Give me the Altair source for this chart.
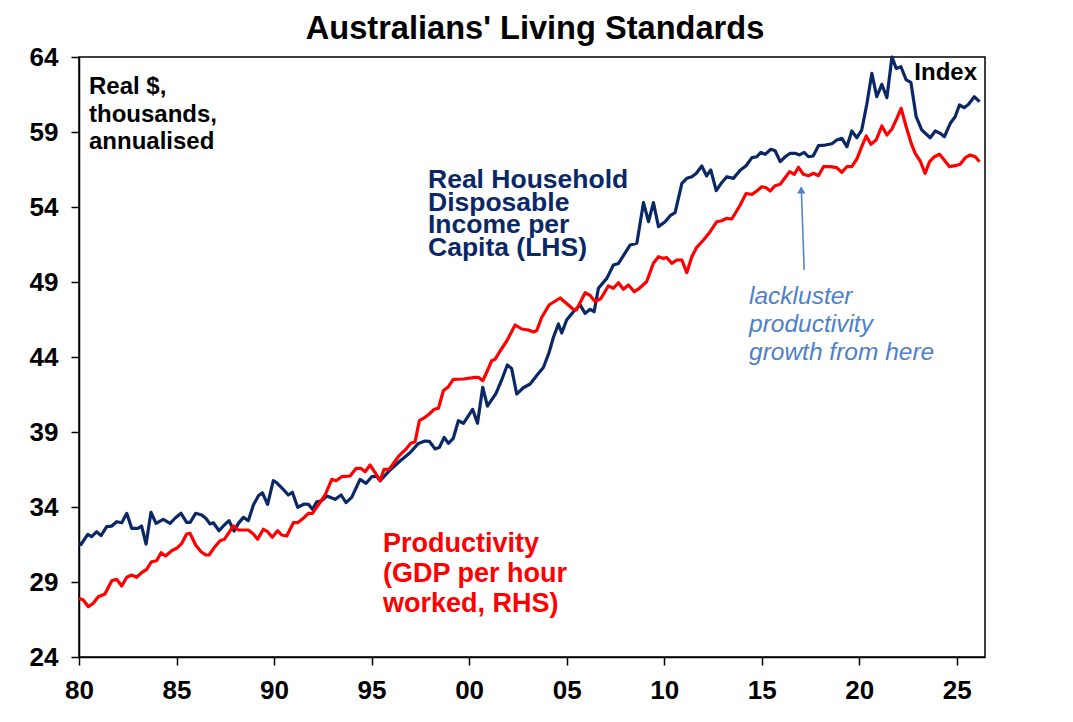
import altair as alt
import pandas as pd

# Real household disposable income per capita, real $ thousands (left axis)
income_years = [
    1980.0, 1980.1, 1980.45, 1980.65, 1980.9, 1981.13, 1981.42, 1981.68, 1981.93, 1982.19,
    1982.45, 1982.7, 1983.04, 1983.21, 1983.44, 1983.69, 1983.95, 1984.32, 1984.67, 1984.92,
    1985.23, 1985.52, 1985.7, 1985.98, 1986.29, 1986.5, 1986.72, 1986.89, 1987.18, 1987.45,
    1987.69, 1987.95, 1988.17, 1988.43, 1988.68, 1988.94, 1989.2, 1989.4, 1989.67, 1989.96,
    1990.13, 1990.47, 1990.73, 1990.94, 1991.21, 1991.55, 1991.76, 1991.97, 1992.19, 1992.44,
    1992.7, 1993.13, 1993.44, 1993.69, 1993.98, 1994.41, 1994.72, 1995.01, 1995.27, 1995.44,
    1995.95, 1996.46, 1996.97, 1997.4, 1997.74, 1997.96, 1998.26, 1998.48, 1998.72, 1998.94,
    1999.19, 1999.45, 1999.71, 2000.18, 2000.43, 2000.7, 2000.94, 2001.38, 2001.67, 2001.96,
    2002.18, 2002.44, 2002.78, 2003.13, 2003.55, 2003.81, 2004.1, 2004.32, 2004.58, 2004.75,
    2005.0, 2005.35, 2005.69, 2005.95, 2006.21, 2006.41, 2006.63, 2007.06, 2007.4, 2007.66,
    2008.26, 2008.6, 2008.94, 2009.2, 2009.45, 2009.71, 2010.05, 2010.31, 2010.56, 2010.91,
    2011.16, 2011.42, 2011.64, 2011.93, 2012.18, 2012.39, 2012.67, 2012.95, 2013.21, 2013.55,
    2013.9, 2014.2, 2014.5, 2014.75, 2014.96, 2015.18, 2015.47, 2015.69, 2015.95, 2016.21,
    2016.46, 2016.72, 2016.94, 2017.18, 2017.4, 2017.64, 2017.91, 2018.26, 2018.6, 2018.85,
    2019.11, 2019.37, 2019.62, 2019.88, 2020.13, 2020.39, 2020.65, 2020.9, 2021.16, 2021.42,
    2021.68, 2021.9, 2022.14, 2022.41, 2022.65, 2022.92, 2023.21, 2023.64, 2023.9, 2024.15,
    2024.37, 2024.67, 2024.92, 2025.14, 2025.38, 2025.61, 2025.9, 2026.17,
]
income_values = [
    31.55, 31.5, 32.18, 32.02, 32.35, 32.09, 32.69, 32.73, 33.02, 32.95,
    33.58, 32.58, 32.58, 32.73, 31.53, 33.65, 32.91, 33.18, 32.91, 33.25,
    33.58, 32.98, 32.98, 33.58, 33.47, 33.25, 32.87, 32.95, 32.42, 32.8,
    33.09, 32.4, 32.91, 33.31, 33.09, 34.13, 34.75, 34.95, 34.18, 35.75,
    35.62, 35.18, 34.8, 34.98, 33.98, 34.2, 34.18, 33.85, 34.35, 34.42,
    34.73, 34.51, 34.8, 34.29, 34.64, 35.84, 35.58, 36.02, 36.05, 35.75,
    36.47, 37.07, 37.62, 38.24, 38.4, 38.38, 37.87, 37.98, 38.64, 38.24,
    38.58, 39.75, 39.58, 40.51, 39.58, 41.98, 40.73, 41.58, 42.47, 43.47,
    43.24, 41.53, 41.95, 42.2, 42.9, 43.3, 44.3, 45.3, 46.2, 45.6,
    46.47, 47.02, 47.47, 46.91, 47.18, 47.02, 48.58, 49.24, 50.13, 50.24,
    51.47, 51.58, 54.29, 53.02, 54.29, 52.69, 53.02, 53.42, 53.62, 55.58,
    55.91, 56.02, 56.24, 56.73, 56.07, 56.47, 55.09, 55.62, 56.02, 55.91,
    56.45, 56.75, 57.29, 57.35, 57.64, 57.51, 57.85, 57.75, 57.02, 57.35,
    57.58, 57.58, 57.47, 57.64, 57.35, 57.4, 58.09, 58.13, 58.22, 58.47,
    58.58, 58.02, 59.07, 58.62, 59.13, 60.85, 62.91, 61.35, 62.18, 61.29,
    64.0, 63.24, 63.35, 62.47, 62.31, 60.02, 59.13, 58.62, 59.07, 58.91,
    58.69, 59.58, 60.02, 60.8, 60.62, 60.85, 61.35, 61.02,
]

# Productivity, GDP per hour worked, index (right axis)
prod_years = [
    1980.0, 1980.22, 1980.48, 1980.73, 1980.99, 1981.33, 1981.68, 1981.93, 1982.19, 1982.45,
    1982.7, 1982.95, 1983.21, 1983.47, 1983.72, 1983.98, 1984.21, 1984.44, 1984.75, 1985.01,
    1985.27, 1985.52, 1985.69, 1985.98, 1986.26, 1986.5, 1986.67, 1986.97, 1987.23, 1987.45,
    1987.66, 1987.91, 1988.17, 1988.68, 1988.94, 1989.16, 1989.45, 1989.67, 1989.91, 1990.18,
    1990.39, 1990.65, 1990.99, 1991.21, 1991.5, 1991.76, 1991.97, 1992.3, 1992.62, 1992.96,
    1993.18, 1993.47, 1993.9, 1994.21, 1994.44, 1994.67, 1994.92, 1995.18, 1995.44, 1995.64,
    1995.91, 1996.37, 1996.8, 1997.01, 1997.23, 1997.45, 1997.74, 1997.96, 1998.21, 1998.43,
    1998.68, 1998.94, 1999.19, 1999.71, 2000.31, 2000.48, 2000.7, 2000.94, 2001.16, 2001.33,
    2001.59, 2001.93, 2002.36, 2002.7, 2003.04, 2003.3, 2003.47, 2003.72, 2004.1, 2004.67,
    2005.0, 2005.35, 2005.5, 2005.95, 2006.21, 2006.46, 2006.76, 2007.14, 2007.4, 2007.66,
    2007.91, 2008.17, 2008.47, 2008.73, 2009.1, 2009.45, 2009.71, 2009.93, 2010.14, 2010.39,
    2010.65, 2010.91, 2011.16, 2011.42, 2011.67, 2012.02, 2012.36, 2012.7, 2012.95, 2013.21,
    2013.47, 2013.9, 2014.2, 2014.5, 2014.75, 2015.01, 2015.23, 2015.44, 2015.69, 2015.95,
    2016.15, 2016.43, 2016.67, 2016.89, 2017.14, 2017.4, 2017.66, 2017.91, 2018.17, 2018.51,
    2018.85, 2019.11, 2019.37, 2019.62, 2019.88, 2020.13, 2020.36, 2020.6, 2020.87, 2021.16,
    2021.42, 2021.68, 2021.93, 2022.15, 2022.41, 2022.65, 2022.87, 2023.13, 2023.38, 2023.61,
    2023.86, 2024.12, 2024.36, 2024.63, 2024.92, 2025.18, 2025.44, 2025.69, 2025.95, 2026.17,
]
prod_values = [
    55.87, 55.7, 55.03, 55.37, 56.03, 56.3, 57.63, 57.77, 57.1, 57.97,
    58.2, 57.97, 58.43, 58.77, 59.53, 59.63, 60.43, 60.1, 60.63, 60.87,
    61.37, 62.3, 62.37, 61.2, 60.53, 60.2, 60.2, 61.03, 61.63, 61.77,
    62.37, 63.1, 62.7, 62.7, 62.3, 61.77, 62.77, 62.53, 61.97, 62.63,
    62.2, 62.1, 63.43, 63.43, 63.87, 64.37, 64.37, 65.3, 66.2, 67.77,
    67.63, 68.03, 68.1, 68.87, 68.87, 68.53, 69.2, 68.43, 67.63, 68.77,
    68.77, 70.03, 70.87, 71.37, 71.53, 73.63, 73.97, 74.3, 74.77, 74.87,
    76.63, 77.03, 77.77, 77.8, 77.97, 77.97, 77.63, 78.63, 79.63, 79.77,
    80.6, 81.6, 83.2, 82.8, 82.7, 82.5, 82.65, 83.95, 85.2, 85.9,
    85.35, 84.75, 84.7, 86.43, 86.15, 85.53, 85.85, 87.1, 86.87, 87.43,
    86.77, 87.2, 86.53, 86.87, 87.53, 89.37, 90.03, 89.87, 89.93, 89.37,
    89.7, 89.7, 88.43, 90.03, 90.97, 91.7, 92.53, 93.53, 93.63, 93.87,
    93.8, 95.2, 96.35, 96.27, 96.6, 97.03, 96.93, 96.6, 97.13, 97.27,
    97.8, 98.53, 98.27, 98.97, 98.27, 98.13, 98.37, 98.13, 99.03, 99.03,
    98.93, 98.47, 99.03, 99.03, 99.8, 101.03, 102.1, 101.27, 101.7, 103.1,
    102.2, 102.8, 103.87, 104.87, 103.03, 101.47, 100.37, 99.6, 98.37, 99.53,
    100.03, 100.27, 99.7, 99.03, 99.13, 99.27, 99.93, 100.2, 100.03, 99.53,
]

x_ticks = [1980, 1985, 1990, 1995, 2000, 2005, 2010, 2015, 2020, 2025]
lhs_ticks = [24, 29, 34, 39, 44, 49, 54, 59, 64]
rhs_ticks = [50, 60, 70, 80, 90, 100, 110]

# annotation arrow (year, index): tail then head
arrow_years = [2017.18, 2017.03]
arrow_index = [88.7, 97.0]

FONT = "Liberation Sans"
NAVY = "#0a2866"
RED = "#ff0000"
NOTE_BLUE = "#4f7fc6"
W, H = 906, 600

income = pd.DataFrame({"year": income_years, "value": income_values})
prod = pd.DataFrame({"year": prod_years, "value": prod_values})
arrow = pd.DataFrame({"year": [arrow_years[0]], "idx": [arrow_index[0]],
                      "year2": [arrow_years[1]], "idx2": [arrow_index[1]]})
arrow_tip = pd.DataFrame({"year": [arrow_years[1]], "idx": [arrow_index[1]]})

x_scale = alt.Scale(domain=[1980, 2026.45], nice=False, zero=False)
lhs_scale = alt.Scale(domain=[24, 64], nice=False, zero=False)
rhs_scale = alt.Scale(domain=[50, 110], nice=False, zero=False)

x_enc = alt.X(
    "year:Q", scale=x_scale, title=None,
    axis=alt.Axis(values=x_ticks, format="d",
                  labelExpr="substring(datum.label, 2, 4)",
                  labelBaseline="alphabetic", labelPadding=33,
                  labelFontSize=26, labelFont=FONT, labelFontWeight="bold",
                  labelColor="black", tickColor="black", tickSize=8, tickWidth=1.5,
                  domainColor="black", domainWidth=1.5, grid=False, labelFlush=False),
)

blue_line = alt.Chart(income).mark_line(color=NAVY, strokeWidth=3.2, strokeJoin="round").encode(
    x=x_enc,
    y=alt.Y("value:Q", scale=lhs_scale, title=None,
            axis=alt.Axis(orient="left", values=lhs_ticks, labelFontSize=26, labelFont=FONT,
                          labelFontWeight="bold", labelColor="black", labelPadding=13,
                          tickColor="black", tickSize=8, tickWidth=1.5,
                          domainColor="black", domainWidth=1.5, grid=False)),
)

red_line = alt.Chart(prod).mark_line(color=RED, strokeWidth=3.2, strokeJoin="round").encode(
    x=alt.X("year:Q", scale=x_scale),
    y=alt.Y("value:Q", scale=rhs_scale, title=None,
            axis=alt.Axis(orient="right", values=rhs_ticks, labelFontSize=26, labelFont=FONT,
                          labelFontWeight="bold", labelColor="black", labelPadding=15,
                          tickColor="black", tickSize=8, tickWidth=1.5,
                          domainColor="black", domainWidth=1.5, grid=False)),
)

arrow_shaft = alt.Chart(arrow).mark_rule(color=NOTE_BLUE, strokeWidth=1.5).encode(
    x=alt.X("year:Q", scale=x_scale),
    x2="year2:Q",
    y=alt.Y("idx:Q", scale=rhs_scale, axis=None),
    y2="idx2:Q",
)
arrow_head = alt.Chart(arrow_tip).mark_point(
    shape="triangle-up", filled=True, color=NOTE_BLUE, size=70, opacity=1, yOffset=3
).encode(
    x=alt.X("year:Q", scale=x_scale),
    y=alt.Y("idx:Q", scale=rhs_scale, axis=None),
)

left_group = alt.layer(blue_line)
right_group = alt.layer(red_line, arrow_shaft, arrow_head)


def note(text, x, y, color="black", size=26, line_height=28, style="normal", weight="bold",
         align="left"):
    return alt.Chart(pd.DataFrame({"t": [text]})).mark_text(
        text=text, lineBreak="\n", align=align, baseline="alphabetic", font=FONT,
        fontSize=size, fontWeight=weight, fontStyle=style, color=color, lineHeight=line_height,
    ).encode(x=alt.value(x), y=alt.value(y))


title = note("Australians' Living Standards", W / 2 + 3, -18, size=32.6, align="center")
units = note("Real $,\nthousands,\nannualised", 10, 37, size=24, line_height=27.7)
index_lbl = note("Index", 898, 23, size=24, align="right")
income_lbl = note("Real Household\nDisposable\nIncome per\nCapita (LHS)", 349, 131,
                  color=NAVY, size=26.5, line_height=22.6)
prod_lbl = note("Productivity\n(GDP per hour\nworked, RHS)", 304, 495,
                color=RED, size=27, line_height=30)
lack_lbl = note("lackluster\nproductivity\ngrowth from here", 670, 247,
                color=NOTE_BLUE, size=24.5, line_height=28, style="italic", weight="normal")

chart = alt.layer(
    left_group, right_group, title, units, index_lbl, income_lbl, prod_lbl, lack_lbl
).resolve_scale(y="independent").properties(
    width=W, height=H,
    autosize=alt.AutoSizeParams(type="none"),
    padding={"left": 79, "top": 57, "right": 88, "bottom": 65},
    background="white",
).configure_view(stroke="black", strokeWidth=1.5)

chart.save("out.html", embed_options={"renderer": "svg", "actions": False})
